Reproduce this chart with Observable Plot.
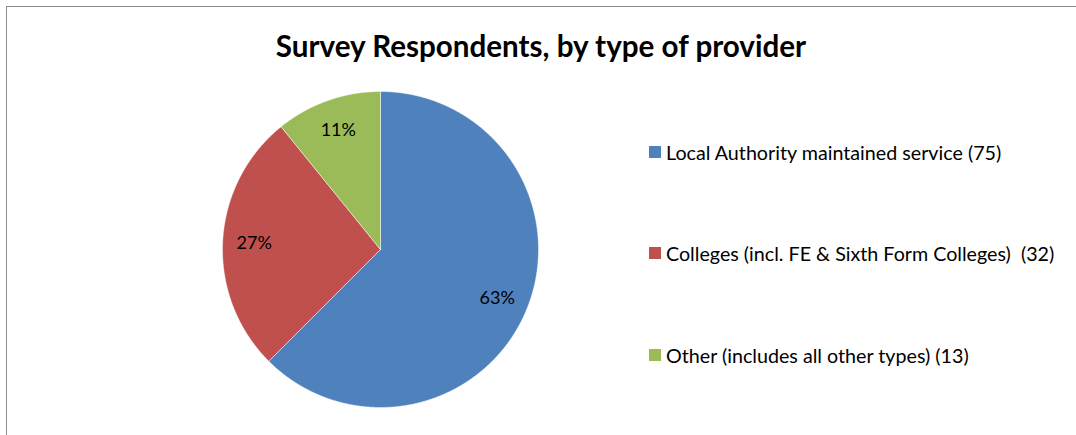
<!DOCTYPE html>
<html>
<head>
<meta charset="utf-8">
<script src="https://cdn.jsdelivr.net/npm/d3@7"></script>
<script src="https://cdn.jsdelivr.net/npm/@observablehq/plot@0.6"></script>
<style>
  html, body { margin: 0; padding: 0; background: #fff; }
  #wrap { position: relative; width: 1076px; height: 435px; overflow: hidden; font-family: Lato, "Open Sans", sans-serif; }
  #frame { position: absolute; left: 6px; top: 6px; width: 1200px; height: 600px; border: 1.5px solid #8c8c8c; box-sizing: border-box; }
  #title { position: absolute; left: 0; width: 1082px; top: 28px; text-align: center; font-weight: bold; font-size: 29.6px; color: #000; line-height: normal; }
  #chart { position: absolute; left: 0; top: 0; }
  .leg { position: absolute; left: 649px; display: flex; align-items: center; font-size: 19.7px; color: #000; white-space: pre; }
  .sw { width: 12px; height: 12px; margin-right: 5px; }
</style>
</head>
<body>
<div id="wrap">
  <div id="frame"></div>
  <div id="chart"></div>
  <div id="title">Survey Respondents, by type of provider</div>
  <div id="legend"></div>
</div>
<script>
const categories = ["Local Authority maintained service", "Colleges (incl. FE & Sixth Form Colleges)", "Other (includes all other types)"];
const legendLabels = ["Local Authority maintained service (75)", "Colleges (incl. FE & Sixth Form Colleges)  (32)", "Other (includes all other types) (13)"];
const counts = [75, 32, 13];
const colors = ["#4F81BD", "#C0504D", "#9BBB59"];

const total = d3.sum(counts);
const pie = d3.pie().sort(null).value(d => d.count);
const slices = pie(categories.map((c, i) => ({category: c, count: counts[i]})));

// Polygon outline of each slice in unit-circle space (angle clockwise from 12 o'clock)
const outline = [];
slices.forEach(s => {
  const c = s.data.category;
  outline.push({category: c, x: 0, y: 0});
  const steps = Math.max(4, Math.ceil((s.endAngle - s.startAngle) / 0.005));
  for (let k = 0; k <= steps; k++) {
    const a = s.startAngle + (s.endAngle - s.startAngle) * k / steps;
    outline.push({category: c, x: Math.sin(a), y: Math.cos(a)});
  }
  outline.push({category: c, x: 0, y: 0});
});

const labels = slices.map(s => {
  const a = (s.startAngle + s.endAngle) / 2;
  return {x: 0.8 * Math.sin(a), y: 0.8 * Math.cos(a), text: Math.round(100 * s.data.count / total) + "%"};
});

const cx = 380, cy = 249, R = 158;
const plot = Plot.plot({
  width: 1076,
  height: 435,
  margin: 0,
  style: {background: "transparent", fontFamily: "Lato, 'Open Sans', sans-serif"},
  x: {domain: [-1, 1], range: [cx - R, cx + R], axis: null},
  y: {domain: [-1, 1], range: [cy + R, cy - R], axis: null},
  color: {domain: categories, range: colors},
  marks: [
    Plot.line(outline, {x: "x", y: "y", z: "category", fill: "category", stroke: "#ffffff", strokeWidth: 0.6, strokeOpacity: 0.8, curve: "linear-closed"}),
    Plot.text(labels, {x: "x", y: "y", text: "text", fontSize: 18, fill: "#000"})
  ]
});
document.getElementById("chart").appendChild(plot);

const legTops = [152, 253, 355];
const legend = document.getElementById("legend");
legendLabels.forEach((t, i) => {
  const row = document.createElement("div");
  row.className = "leg";
  row.style.top = (legTops[i] - 14) + "px";
  row.style.height = "28px";
  const sw = document.createElement("div");
  sw.className = "sw";
  sw.style.background = colors[i];
  const tx = document.createElement("span");
  tx.textContent = t;
  row.appendChild(sw);
  row.appendChild(tx);
  legend.appendChild(row);
});
</script>
</body>
</html>
